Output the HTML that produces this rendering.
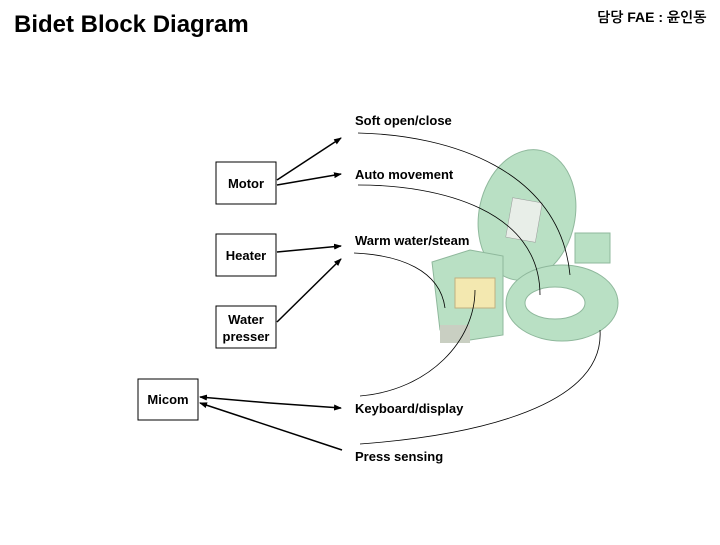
<!DOCTYPE html>
<html><head><style>
body{margin:0;background:#fff;}
.t{font-family:"Liberation Sans","NanumGothic",sans-serif;font-weight:bold;fill:#000;}
</style></head><body>
<svg width="720" height="540" xmlns="http://www.w3.org/2000/svg">
<defs><marker id="a" markerWidth="8" markerHeight="6" refX="7" refY="3" orient="auto" markerUnits="userSpaceOnUse"><path d="M0,0 L8,3 L0,6z" fill="#000"/></marker></defs>
<text x="14" y="32" class="t" font-size="24">Bidet Block Diagram</text>
<text x="597" y="22" class="t" font-size="14" font-family="'NanumGothic','Liberation Sans',sans-serif">담당 FAE : 윤인동</text>
<!-- toilet -->
<g fill="#b9e0c4" stroke="#8fb89c" stroke-width="1">
<ellipse cx="527" cy="215" rx="48" ry="66" transform="rotate(12 527 215)"/>
<rect x="575" y="233" width="35" height="30"/>
<ellipse cx="562" cy="303" rx="56" ry="38"/>
<ellipse cx="555" cy="303" rx="30" ry="16" fill="#fff"/>
<path d="M432 262 L470 250 L503 256 L503 335 L470 340 L440 330 Z"/>
<rect x="455" y="278" width="40" height="30" fill="#f3e8b0" stroke="#c0b080"/>
<rect x="440" y="325" width="30" height="18" fill="#c9cfc2" stroke="none"/>
</g>
<rect x="509" y="200" width="30" height="40" fill="#e8eee8" stroke="#999" stroke-width="0.5" transform="rotate(10 524 220)"/>
<!-- boxes -->
<g fill="none" stroke="#000" stroke-width="1">
<rect x="216" y="162" width="60" height="42"/>
<rect x="216" y="234" width="60" height="42"/>
<rect x="216" y="306" width="60" height="42"/>
<rect x="138" y="379" width="60" height="41"/>
</g>
<text x="246" y="188" class="t" font-size="13" text-anchor="middle" font-weight="normal">Motor</text>
<text x="246" y="260" class="t" font-size="13" text-anchor="middle" font-weight="normal">Heater</text>
<text x="246" y="324" class="t" font-size="13" text-anchor="middle" font-weight="normal">Water</text>
<text x="246" y="341" class="t" font-size="13" text-anchor="middle" font-weight="normal">presser</text>
<text x="168" y="404" class="t" font-size="13" text-anchor="middle" font-weight="normal">Micom</text>
<g stroke="#000" stroke-width="1.5" marker-end="url(#a)">
<line x1="277" y1="180" x2="341" y2="138"/>
<line x1="277" y1="185" x2="341" y2="174"/>
<line x1="277" y1="252" x2="341" y2="246"/>
<line x1="277" y1="322" x2="341" y2="259"/>
<line x1="270" y1="403" x2="341" y2="408"/>
<line x1="270" y1="403" x2="200" y2="397"/>
<line x1="342" y1="450" x2="200" y2="403"/>
</g>
<text x="355" y="125" class="t" font-size="13" font-weight="normal">Soft open/close</text>
<text x="355" y="179" class="t" font-size="13" font-weight="normal">Auto movement</text>
<text x="355" y="245" class="t" font-size="13" font-weight="normal">Warm water/steam</text>
<text x="355" y="413" class="t" font-size="13" font-weight="normal">Keyboard/display</text>
<text x="355" y="461" class="t" font-size="13" font-weight="normal">Press sensing</text>
<g fill="none" stroke="#000" stroke-width="0.8">
<path d="M358 133 C450 135 560 170 570 275"/>
<path d="M358 185 C440 185 540 210 540 295"/>
<path d="M354 253 C400 255 440 270 445 308"/>
<path d="M360 396 C430 390 475 340 475 290"/>
<path d="M360 444 C480 435 605 405 600 330"/>
</g>
</svg>
</body></html>
